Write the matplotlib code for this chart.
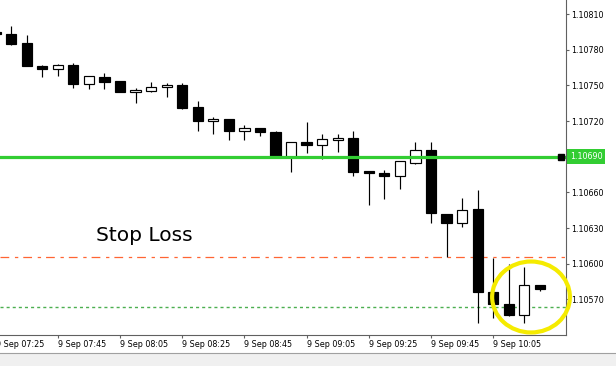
import matplotlib
matplotlib.use("Agg")
import matplotlib.pyplot as plt
import matplotlib.transforms as mtransforms
from matplotlib.patches import Rectangle, Ellipse

plt.rcParams["lines.scale_dashes"] = False

# 5 minute EURUSD bars, 9 Sep 07:25 .. 10:20
times = ["07:25", "07:30", "07:35", "07:40", "07:45", "07:50", "07:55", "08:00",
         "08:05", "08:10", "08:15", "08:20", "08:25", "08:30", "08:35", "08:40",
         "08:45", "08:50", "08:55", "09:00", "09:05", "09:10", "09:15", "09:20",
         "09:25", "09:30", "09:35", "09:40", "09:45", "09:50", "09:55", "10:00",
         "10:05", "10:10", "10:15", "10:20"]
opens = [1.10795, 1.10793, 1.10786, 1.10766, 1.10764, 1.10767, 1.10751, 1.10757,
         1.10754, 1.10744, 1.10745, 1.10749, 1.10750, 1.10732, 1.10720, 1.10722,
         1.10712, 1.10714, 1.10711, 1.10690, 1.10702, 1.10700, 1.10704, 1.10706,
         1.10678, 1.10676, 1.10674, 1.10685, 1.10696, 1.10642, 1.10634, 1.10646,
         1.10576, 1.10566, 1.10557, 1.10582]
highs = [1.10797, 1.10800, 1.10792, 1.10767, 1.10768, 1.10769, 1.10758, 1.10760,
         1.10754, 1.10748, 1.10753, 1.10752, 1.10752, 1.10737, 1.10723, 1.10722,
         1.10717, 1.10714, 1.10712, 1.10702, 1.10719, 1.10709, 1.10709, 1.10712,
         1.10678, 1.10679, 1.10686, 1.10702, 1.10702, 1.10642, 1.10655, 1.10662,
         1.10605, 1.10600, 1.10597, 1.10582]
lows = [1.10792, 1.10784, 1.10766, 1.10757, 1.10758, 1.10748, 1.10747, 1.10747,
        1.10744, 1.10735, 1.10744, 1.10740, 1.10730, 1.10712, 1.10709, 1.10704,
        1.10704, 1.10707, 1.10691, 1.10677, 1.10693, 1.10688, 1.10694, 1.10674,
        1.10649, 1.10654, 1.10663, 1.10684, 1.10634, 1.10606, 1.10631, 1.10550,
        1.10554, 1.10556, 1.10550, 1.10577]
closes = [1.10793, 1.10785, 1.10766, 1.10764, 1.10767, 1.10751, 1.10758, 1.10753,
          1.10744, 1.10746, 1.10749, 1.10749, 1.10731, 1.10720, 1.10722, 1.10712,
          1.10714, 1.10711, 1.10691, 1.10702, 1.10700, 1.10705, 1.10706, 1.10677,
          1.10676, 1.10674, 1.10686, 1.10696, 1.10643, 1.10634, 1.10645, 1.10576,
          1.10566, 1.10557, 1.10582, 1.10579]

price_ticks = [1.10570, 1.10600, 1.10630, 1.10660, 1.10720, 1.10750, 1.10780, 1.10810]
entry_level = 1.10690
stop_level = 1.10606
target_level = 1.10564
stop_label = "Stop Loss"
time_tick_idx = [4, 8, 12, 16, 20, 24, 28, 32]

fig = plt.figure(figsize=(6.16, 3.66), dpi=100)
ax = fig.add_axes([0, 31.5 / 366, 566 / 616, 334.5 / 366])

body_w = 0.66
for i, (o, h, l, c) in enumerate(zip(opens, highs, lows, closes)):
    ax.vlines(i, l, h, color="black", lw=0.85, zorder=2)
    bull = c >= o
    ax.add_patch(Rectangle((i - body_w / 2, min(o, c)), body_w, max(abs(c - o), 0.000012),
                           facecolor="white" if bull else "black", edgecolor="black",
                           lw=0.85, zorder=3))

# levels
ax.axhline(stop_level, color="#FF6533", lw=0.9, dashes=(6.3, 4.1, 2.4, 3.6), zorder=1)
ax.axhline(target_level, color="#4CAF50", lw=1.0, dashes=(2.2, 2.2), zorder=1)
ax.axhline(entry_level, color="#32CD32", lw=2.3, zorder=4)
ax.plot([36.36], [entry_level], marker="s", ms=5, color="black", zorder=5, clip_on=False)

ax.text(6.46, 1.10619, stop_label, fontsize=14.5, va="baseline", ha="left", color="black")

ax.add_patch(Ellipse((34.43, 1.10572), 5.0, 0.000597, fill=False, edgecolor="#F5EB00",
                     lw=3.0, zorder=6, clip_on=False))

ax.set_xlim(0.283, 36.68)
ax.set_ylim(1.1054045, 1.108218)

for s in ["top", "left"]:
    ax.spines[s].set_visible(False)
for s in ["right", "bottom"]:
    ax.spines[s].set_color("#606060")
    ax.spines[s].set_linewidth(0.8)

ax.yaxis.tick_right()
ax.set_yticks(price_ticks)
ax.set_yticklabels([f"{p:.5f}" for p in price_ticks])
ax.tick_params(axis="y", length=2.5, pad=1.2, labelsize=5.8, color="#606060")

ax.set_xticks(time_tick_idx)
ax.set_xticklabels([f"9 Sep {times[i]}" for i in time_tick_idx], ha="left")
ax.tick_params(axis="x", length=2.5, pad=1.5, labelsize=5.8, color="#606060")
ax.text(0, -0.0155, f"9 Sep {times[0]}", transform=mtransforms.blended_transform_factory(ax.transData, ax.transAxes),
        fontsize=5.8, ha="left", va="top", clip_on=False)

blend = mtransforms.blended_transform_factory(ax.transAxes, ax.transData)
ax.text(1.007, entry_level, f"{entry_level:.5f}", transform=blend, ha="left", va="center",
        color="white", fontsize=5.8,
        bbox=dict(boxstyle="square,pad=0.35", facecolor="#32CD32", edgecolor="none"))

# window frame strip at the bottom
fig.patches.append(Rectangle((0, 0), 1, 13 / 366, transform=fig.transFigure,
                             facecolor="#F0F0F0", edgecolor="none"))
fig.lines.append(plt.Line2D([0, 1], [13 / 366, 13 / 366], transform=fig.transFigure,
                            color="#A0A0A0", lw=0.8))

fig.savefig("out.png", dpi=100)
